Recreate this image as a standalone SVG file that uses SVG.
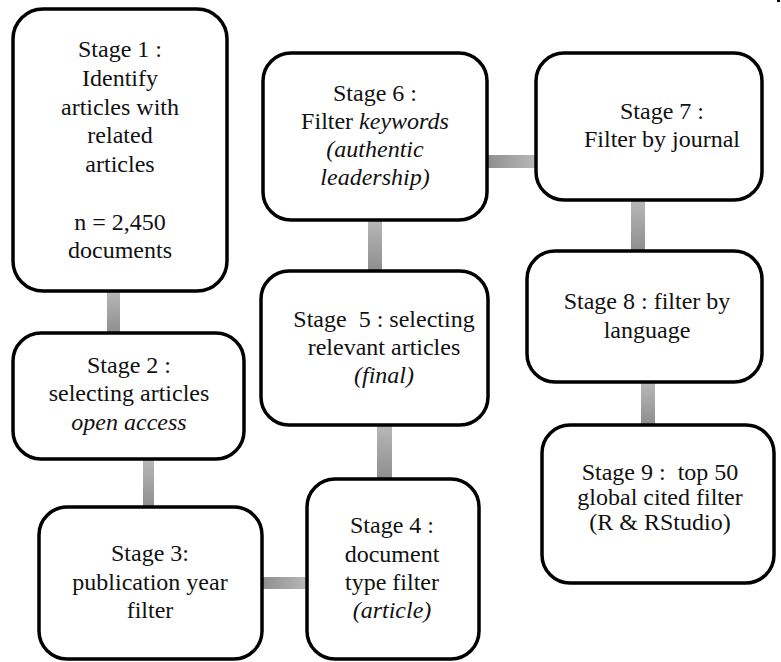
<svg xmlns="http://www.w3.org/2000/svg" width="781" height="662" viewBox="0 0 781 662">
<defs>
<linearGradient id="gv" x1="0" y1="0" x2="0" y2="1"><stop offset="0" stop-color="#b8b8b8"/><stop offset="1" stop-color="#8e8e8e"/></linearGradient>
<linearGradient id="gh" x1="0" y1="0" x2="1" y2="0"><stop offset="0" stop-color="#8e8e8e"/><stop offset="1" stop-color="#b8b8b8"/></linearGradient>
</defs>
<style>
.box{fill:#fff;stroke:#000;stroke-width:3.5}
text{font-family:"Liberation Serif","Times New Roman",serif;font-size:24px;fill:#111;text-anchor:middle}
.i{font-style:italic}
.cv{fill:url(#gv)}
.ch{fill:url(#gh)}
</style>
<rect width="781" height="662" fill="#fff"/>
<g id="connectors">
<rect class="cv" x="107" y="291" width="13" height="42"/>
<rect class="cv" x="143" y="459" width="11" height="48"/>
<rect class="ch" x="262" y="577" width="45" height="12"/>
<rect class="cv" x="377" y="425" width="15" height="54"/>
<rect class="cv" x="368" y="220" width="14" height="51"/>
<rect class="ch" x="487" y="155" width="49" height="13"/>
<rect class="cv" x="631" y="200" width="14" height="51"/>
<rect class="cv" x="641" y="382" width="14" height="43"/>
</g>
<g id="stage1">
<rect class="box" x="13" y="9" width="214" height="282" rx="30"/>
<text x="120" y="57">Stage 1 :</text>
<text x="120" y="86">Identify</text>
<text x="120" y="115">articles with</text>
<text x="120" y="143">related</text>
<text x="120" y="172">articles</text>
<text x="120" y="230">n = 2,450</text>
<text x="120" y="258">documents</text>
</g>
<g id="stage2">
<rect class="box" x="13" y="333" width="231" height="126" rx="28"/>
<text x="129" y="373">Stage 2 :</text>
<text x="129" y="401">selecting articles</text>
<text x="129" y="430" class="i">open access</text>
</g>
<g id="stage3">
<rect class="box" x="39" y="507" width="223" height="152" rx="28"/>
<text x="150" y="561">Stage 3:</text>
<text x="150" y="590">publication year</text>
<text x="150" y="618">filter</text>
</g>
<g id="stage4">
<rect class="box" x="307" y="479" width="172" height="180" rx="28"/>
<text x="392" y="533">Stage 4 :</text>
<text x="392" y="562">document</text>
<text x="392" y="590">type filter</text>
<text x="392" y="618" class="i">(article)</text>
</g>
<g id="stage5">
<rect class="box" x="261" y="271" width="227" height="154" rx="28"/>
<text x="384" y="327" xml:space="preserve">Stage  5 : selecting</text>
<text x="384" y="355">relevant articles</text>
<text x="384" y="383" class="i">(final)</text>
</g>
<g id="stage6">
<rect class="box" x="263" y="53" width="224" height="167" rx="28"/>
<text x="375" y="101">Stage 6 :</text>
<text x="375" y="129">Filter <tspan class="i">keywords</tspan></text>
<text x="375" y="157" class="i">(authentic</text>
<text x="375" y="185" class="i">leadership)</text>
</g>
<g id="stage7">
<rect class="box" x="536" y="53" width="226" height="147" rx="28"/>
<text x="662" y="119">Stage 7 :</text>
<text x="662" y="147">Filter by journal</text>
</g>
<g id="stage8">
<rect class="box" x="527" y="251" width="235" height="131" rx="28"/>
<text x="647" y="309">Stage 8 : filter by</text>
<text x="647" y="338">language</text>
</g>
<g id="stage9">
<rect class="box" x="542" y="425" width="232" height="158" rx="28"/>
<text x="660" y="480" xml:space="preserve">Stage 9 :  top 50</text>
<text x="660" y="505">global cited filter</text>
<text x="660" y="530">(R &amp; RStudio)</text>
</g>
<rect x="777" y="0" width="3" height="2" fill="#000"/>
</svg>
